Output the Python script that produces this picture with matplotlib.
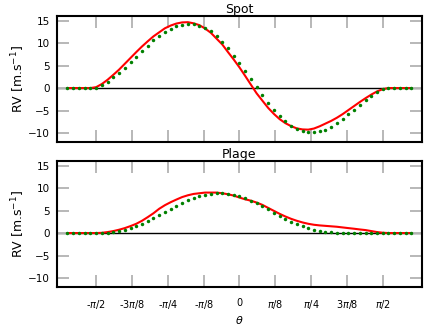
import numpy as np
import matplotlib
matplotlib.use("Agg")
import matplotlib.pyplot as plt

# phase, in units of pi
theta_over_pi = [-0.60, -0.58, -0.56, -0.54, -0.52, -0.50, -0.48, -0.46, -0.44, -0.42,
                 -0.40, -0.38, -0.36, -0.34, -0.32, -0.30, -0.28, -0.26, -0.24, -0.22,
                 -0.20, -0.18, -0.16, -0.14, -0.12, -0.10, -0.08, -0.06, -0.04, -0.02,
                 0.00, 0.02, 0.04, 0.06, 0.08, 0.10, 0.12, 0.14, 0.16, 0.18,
                 0.20, 0.22, 0.24, 0.26, 0.28, 0.30, 0.32, 0.34, 0.36, 0.38,
                 0.40, 0.42, 0.44, 0.46, 0.48, 0.50, 0.52, 0.54, 0.56, 0.58, 0.60]

spot_model = [0, 0, 0, 0, 0, 0.1, 0.66, 1.4, 2.35, 3.4,
              4.56, 5.74, 7.0, 8.17, 9.3, 10.6, 11.55, 12.5, 13.2, 13.75,
              14.1, 14.35, 14.3, 13.9, 13.4, 12.6, 11.55, 10.3, 8.85, 7.2,
              5.6, 3.7, 2.0, 0.22, -1.55, -3.24, -4.86, -6.26, -7.43, -8.46,
              -9.2, -9.64, -9.8, -9.86, -9.64, -9.27, -8.6, -7.73, -6.9, -5.74,
              -4.78, -3.68, -2.65, -1.69, -0.88, -0.3, 0, 0, 0, 0, 0]

spot_sim = [0, 0, 0, 0, 0, 0.2, 0.9, 1.85, 2.95, 4.1,
            5.4, 6.7, 8.0, 9.25, 10.4, 11.5, 12.4, 13.3, 13.9, 14.35,
            14.6, 14.65, 14.4, 14.0, 13.25, 12.3, 11.0, 9.7, 8.0, 6.35,
            4.6, 2.7, 0.75, -1.18, -2.8, -4.4, -5.74, -6.9, -7.8, -8.46,
            -8.97, -9.2, -9.25, -9.0, -8.5, -7.9, -7.3, -6.6, -5.8, -4.9,
            -4.0, -3.1, -2.25, -1.45, -0.75, -0.25, 0, 0, 0, 0, 0]

plage_model = [0, 0, 0, 0, 0, 0, 0, 0.05, 0.15, 0.37,
               0.74, 1.03, 1.47, 2.06, 2.65, 3.3, 4.06, 4.72, 5.38, 6.05,
               6.64, 7.3, 7.9, 8.26, 8.55, 8.7, 8.85, 8.85, 8.7, 8.48,
               8.19, 7.74, 7.23, 6.64, 6.05, 5.31, 4.57, 3.9, 3.17, 2.5,
               2.0, 1.55, 1.1, 0.74, 0.44, 0.22, 0.15, 0.12, 0.1, 0.08,
               0.06, 0.05, 0.03, 0.02, 0.01, 0, 0, 0, 0, 0, 0]

plage_sim = [0, 0, 0, 0, 0, 0, 0.05, 0.22, 0.44, 0.74,
             1.1, 1.55, 2.06, 2.73, 3.54, 4.4, 5.4, 6.2, 6.86, 7.45,
             8.0, 8.4, 8.7, 8.85, 9.0, 9.0, 9.0, 8.85, 8.63, 8.33,
             7.9, 7.5, 7.2, 6.78, 6.27, 5.6, 4.94, 4.28, 3.69, 3.17,
             2.73, 2.36, 2.06, 1.84, 1.7, 1.6, 1.5, 1.4, 1.25, 1.1,
             0.96, 0.8, 0.66, 0.44, 0.22, 0.07, 0, 0, 0, 0, 0]

tick_labels = [r'-$\pi$/2', r'-3$\pi$/8', r'-$\pi$/4', r'-$\pi$/8', '0',
               r'$\pi$/8', r'$\pi$/4', r'3$\pi$/8', r'$\pi$/2']
tick_eighths = [-4, -3, -2, -1, 0, 1, 2, 3, 4]

theta = np.array(theta_over_pi) * np.pi
ticks = np.array(tick_eighths) * np.pi / 8

fig = plt.figure(figsize=(4.36, 3.27), dpi=100)
ax1 = fig.add_axes([0.1307, 0.5657, 0.837, 0.385])
ax2 = fig.add_axes([0.1307, 0.1223, 0.837, 0.385])

panels = [(ax1, "Spot", spot_sim, spot_model), (ax2, "Plage", plage_sim, plage_model)]
for ax, title, sim, model in panels:
    ax.axhline(0, color='black', lw=1, zorder=1)
    ax.plot(theta, sim, '-', color='red', lw=1.5, zorder=2)
    ax.plot(theta, model, 'o', color='green', ms=2.5, mew=0, zorder=3)
    ax.set_xlim(-2, 2)
    ax.set_ylim(-12, 16)
    ax.set_yticks([-10, -5, 0, 5, 10, 15])
    ax.set_xticks(ticks)
    ax.tick_params(direction='in', length=8.5, width=1.4, color='#b8b8b8',
                   top=True, right=True, labelsize=7.5, pad=5)
    for sp in ax.spines.values():
        sp.set_linewidth(1.5)
    ax.set_title(title, fontsize=9, pad=2)
    ax.set_ylabel(r'RV [m.s$^{-1}$]', fontsize=9, labelpad=1)

ax1.set_xticklabels([])
ax2.set_xticklabels(tick_labels, fontsize=7)
ax2.tick_params(axis='x', pad=8)
ax2.set_xlabel(r'$\theta$', fontsize=8, labelpad=2)

fig.savefig("out.png", dpi=100)
